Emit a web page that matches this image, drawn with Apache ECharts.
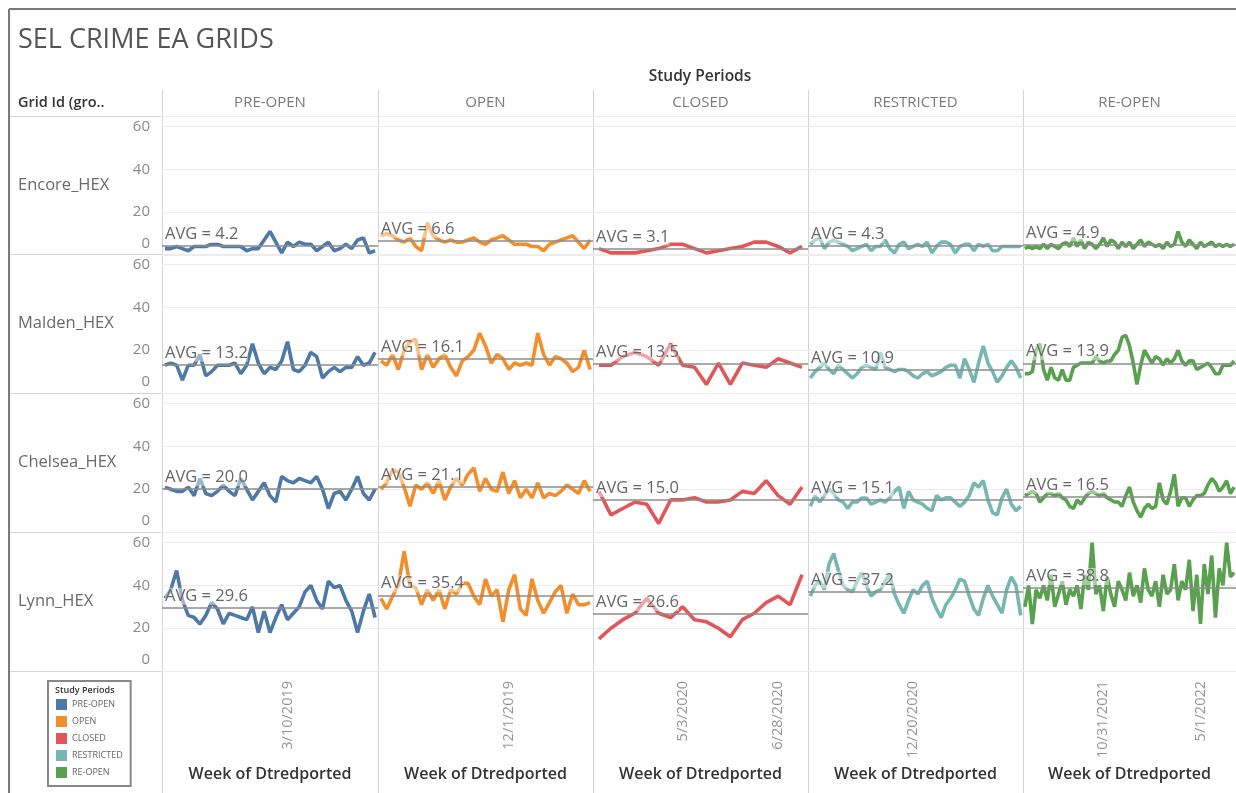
<!DOCTYPE html>
<html>
<head>
<meta charset="utf-8">
<script src="https://cdn.jsdelivr.net/npm/echarts@6/dist/echarts.min.js"></script>
<style>
html,body{margin:0;padding:0;background:#fff;}
#chart{width:1236px;height:793px;}
</style>
</head>
<body>
<div id="chart"></div>
<script>
// ---------- data ----------
const periods = ['PRE-OPEN', 'OPEN', 'CLOSED', 'RESTRICTED', 'RE-OPEN'];
const gridIds = ['Encore_HEX', 'Malden_HEX', 'Chelsea_HEX', 'Lynn_HEX'];
const periodStart = ['2018-10-14', '2019-06-30', '2020-03-15', '2020-07-19', '2021-06-06'];
const xTickLabels = [['3/10/2019'], ['12/1/2019'], ['5/3/2020', '6/28/2020'], ['12/20/2020'], ['10/31/2021', '5/1/2022']];
const yTickValues = [0, 20, 40, 60];

const encorePreOpen = [3,3,4,3,2,4,4,4,5,5,4,4,4,4,2,3,3,7,11,6,1,6,4,6,5,5,2,4,6,2,3,5,3,7,8,1,2];
const encoreOpen = [9,10,9,7,6,8,4,2,15,9,7,6,7,6,6,7,8,6,5,7,8,9,7,5,5,5,4,4,2,5,6,7,8,9,6,3,7];
const encoreClosed = [3,1,1,1,2,3,5,5,3,1,2,3,4,6,6,4,1,4];
const encoreRestricted = [5,7,8,3,6,7,6,5,4,2,3,4,5,2,4,4,7,3,1,5,6,3,4,5,4,6,1,4,6,6,5,1,4,5,5,2,5,4,5,2,2,4,4,4,4,4];
const encoreReopen = [3,4,3,4,3,5,3,5,4,3,5,6,4,8,4,7,3,6,5,3,5,8,4,7,6,3,6,4,6,3,5,7,4,6,5,4,5,3,6,4,5,11,6,4,7,5,3,6,4,5,6,4,5,4,5,4,5];

const maldenPreOpen = [13,14,13,6,13,13,18,8,10,13,13,13,14,9,13,23,14,9,12,11,15,24,11,10,13,19,17,7,10,12,10,12,12,17,13,14,19];
const maldenOpen = [15,13,18,11,20,24,25,11,18,12,16,18,12,8,15,17,20,28,22,14,18,16,11,14,13,14,13,28,18,13,17,16,14,10,12,20,11];
const maldenClosed = [13,13,17,19,17,13,23,13,12,4,14,4,14,13,12,16,14,12];
const maldenRestricted = [7,10,12,14,11,9,13,11,9,7,9,12,13,12,11,19,12,11,10,11,11,10,8,7,9,10,8,9,10,12,13,13,7,16,11,5,14,22,14,10,5,8,12,15,12,7];
const maldenReopen = [9,9,10,20,23,11,6,12,7,6,11,6,6,12,13,14,14,14,14,17,15,14,15,15,18,20,26,27,22,14,4,13,20,17,14,17,16,13,16,14,16,20,15,13,15,15,11,12,13,14,12,9,9,13,13,13,15];

const chelseaPreOpen = [21,20,19,19,21,17,25,18,17,19,22,19,17,25,20,15,19,23,17,14,26,24,23,25,24,23,26,20,11,18,19,15,20,26,18,15,20];
const chelseaOpen = [20,23,29,28,21,12,22,20,23,18,24,15,21,25,22,27,30,19,25,20,19,28,18,24,16,20,16,23,16,18,17,19,22,20,18,24,19];
const chelseaClosed = [19,8,11,14,13,4,15,15,16,14,14,15,19,18,24,17,13,21];
const chelseaRestricted = [12,17,14,17,20,18,15,14,11,14,14,16,16,13,14,15,14,16,19,21,11,19,15,14,13,11,10,17,15,16,16,14,12,14,17,23,21,24,15,9,8,16,20,13,10,12];
const chelseaReopen = [17,18,19,18,14,16,18,18,17,18,16,15,12,11,15,13,16,18,19,18,17,18,16,15,14,14,12,17,21,14,10,7,11,13,11,12,23,15,13,19,27,12,16,16,12,15,17,17,18,22,25,23,19,21,24,18,21];

const lynnPreOpen = [34,38,47,33,26,25,22,26,32,29,22,27,26,25,24,30,18,28,18,25,31,24,27,30,37,40,33,29,42,39,40,33,28,18,28,36,25];
const lynnOpen = [34,29,35,40,56,40,39,31,38,33,38,29,38,36,41,41,35,31,43,35,38,23,38,45,29,26,43,33,27,32,37,40,27,36,31,31,32];
const lynnClosed = [15,20,24,27,34,27,25,30,24,23,20,16,24,27,32,35,31,45];
const lynnRestricted = [35,40,42,38,50,55,47,40,38,37,42,46,40,35,37,38,42,45,36,31,27,33,38,36,40,42,34,29,25,31,34,38,43,42,35,29,26,34,40,35,31,27,38,44,40,26];
const lynnReopen = [30,40,22,38,34,40,33,45,30,36,42,31,38,35,40,29,45,38,60,36,40,28,44,36,30,42,38,33,46,35,40,32,48,38,35,42,30,45,36,38,50,33,42,38,52,28,45,22,50,36,54,25,48,40,60,44,46];

const seriesValues = [
  [encorePreOpen, encoreOpen, encoreClosed, encoreRestricted, encoreReopen],
  [maldenPreOpen, maldenOpen, maldenClosed, maldenRestricted, maldenReopen],
  [chelseaPreOpen, chelseaOpen, chelseaClosed, chelseaRestricted, chelseaReopen],
  [lynnPreOpen, lynnOpen, lynnClosed, lynnRestricted, lynnReopen]
];

// ---------- layout / style ----------
const periodColors = ['#4e79a7', '#f28e2b', '#e15759', '#76b7b2', '#59a14f'];
const colLeft = [162, 378, 593, 808, 1023];
const colWidth = [216, 215, 215, 215, 213];
const rowTop = [116, 254, 393, 532];
const rowHeight = 139;
const FONT = '"Open Sans", "Noto Sans", sans-serif';

function weekLabels(start, n) {
  const p = start.split('-').map(Number);
  const out = [];
  for (let i = 0; i < n; i++) {
    const d = new Date(Date.UTC(p[0], p[1] - 1, p[2] + 7 * i));
    out.push((d.getUTCMonth() + 1) + '/' + d.getUTCDate() + '/' + d.getUTCFullYear());
  }
  return out;
}

const grids = [], xAxes = [], yAxes = [], series = [];
gridIds.forEach((gid, r) => {
  periods.forEach((per, c) => {
    const k = grids.length;
    const vals = seriesValues[r][c];
    const cats = weekLabels(periodStart[c], vals.length);
    const isBottom = r === gridIds.length - 1;
    grids.push({left: colLeft[c], top: rowTop[r], width: colWidth[c], height: rowHeight, containLabel: false});
    xAxes.push({
      type: 'category', gridIndex: k, data: cats, boundaryGap: true,
      axisLine: {show: false}, axisTick: {show: false}, splitLine: {show: false},
      axisLabel: {
        show: isBottom, rotate: 90, margin: 10, color: '#949494', fontSize: 14.5, fontFamily: FONT,
        interval: (idx, val) => xTickLabels[c].indexOf(val) >= 0
      },
      name: isBottom ? 'Week of Dtredported' : '',
      nameLocation: 'middle', nameGap: 95,
      nameTextStyle: {color: '#333', fontSize: 16, fontWeight: 600, fontFamily: FONT}
    });
    yAxes.push({
      type: 'value', gridIndex: k, min: 0, max: 65, interval: 20,
      axisLine: {show: false}, axisTick: {show: false},
      splitLine: {show: true, lineStyle: {color: '#ececec', width: 1}},
      axisLabel: {
        show: c === 0, margin: 12, color: '#8a8a8a', fontSize: 15, fontFamily: FONT,
        formatter: v => (v === 0 ? '{z|0}' : (yTickValues.indexOf(v) >= 0 ? String(v) : '')),
        rich: {z: {fontSize: 15, color: '#8a8a8a', fontFamily: FONT, padding: [0, 0, 22, 0]}}
      },
      name: c === 0 ? gid : '',
      nameLocation: 'middle', nameRotate: 0, nameGap: 144,
      nameTextStyle: {align: 'left', verticalAlign: 'middle', color: '#6a6a6a', fontSize: 16.5, fontFamily: FONT}
    });
    series.push({
      type: 'line', name: per, xAxisIndex: k, yAxisIndex: k, data: vals,
      symbol: 'none', showSymbol: false, smooth: false,
      lineStyle: {width: 3.6, color: periodColors[c]},
      itemStyle: {color: periodColors[c]},
      emphasis: {disabled: true},
      markLine: {
        silent: true, symbol: 'none', animation: false,
        data: [{type: 'average'}],
        lineStyle: {color: '#8c8c8c', width: 1.5, type: 'solid'},
        label: {
          position: 'insideStartTop', distance: 3,
          formatter: p => 'AVG = ' + Number(p.value).toFixed(1),
          color: '#666', fontSize: 16.5, fontFamily: FONT,
          backgroundColor: 'rgba(255,255,255,0.45)'
        }
      }
    });
  });
});

// graphic frame / headers
const graphic = [];
const hline = (x1, x2, y, color, w) => graphic.push({type: 'line', silent: true, shape: {x1, y1: y, x2, y2: y}, style: {stroke: color, lineWidth: w}, z: 0});
const vline = (x, y1, y2, color, w) => graphic.push({type: 'line', silent: true, shape: {x1: x, y1, x2: x, y2}, style: {stroke: color, lineWidth: w}, z: 0});
hline(9, 1236, 9, '#7a7a7a', 2);
vline(9, 9, 793, '#7a7a7a', 2);
rowTop.concat([rowTop[3] + rowHeight]).forEach(y => hline(10, 1236, y + 0.5, '#d4d4d4', 1));
colLeft.forEach(x => vline(x + 0.5, 90, 793, '#d4d4d4', 1));
graphic.push({type: 'text', silent: true, x: 18, y: 103,
  style: {text: 'Grid Id (gro..', fill: '#333', font: '600 14.5px ' + FONT, align: 'left', verticalAlign: 'middle'}});
periods.forEach((p, c) => {
  graphic.push({type: 'text', silent: true, x: colLeft[c] + colWidth[c] / 2, y: 103,
    style: {text: p, fill: '#7a7a7a', font: '15px ' + FONT, align: 'center', verticalAlign: 'middle'}});
});
graphic.push({type: 'text', silent: true, x: 700, y: 77,
  style: {text: 'Study Periods', fill: '#333', font: '600 15.5px ' + FONT, align: 'center', verticalAlign: 'middle'}});
graphic.push({type: 'text', silent: true, x: 55, y: 690,
  style: {text: 'Study Periods', fill: '#333', font: '600 9px ' + FONT, align: 'left', verticalAlign: 'middle'}, z: 10});

const chart = echarts.init(document.getElementById('chart'), null, {renderer: 'canvas'});
chart.setOption({
  animation: false,
  backgroundColor: '#fff',
  title: {
    text: 'SEL CRIME EA GRIDS', left: 13, top: 22,
    textStyle: {color: '#555', fontSize: 27, fontWeight: 'normal', fontFamily: FONT}
  },
  legend: {
    data: periods, orient: 'vertical', left: 48, top: 681,
    icon: 'rect', itemWidth: 11, itemHeight: 11, itemGap: 6,
    padding: [18, 8, 8, 8], borderColor: '#888', borderWidth: 2,
    selectedMode: false,
    textStyle: {color: '#666', fontSize: 9, fontFamily: FONT}
  },
  grid: grids, xAxis: xAxes, yAxis: yAxes, series: series,
  graphic: graphic
});
</script>
</body>
</html>
